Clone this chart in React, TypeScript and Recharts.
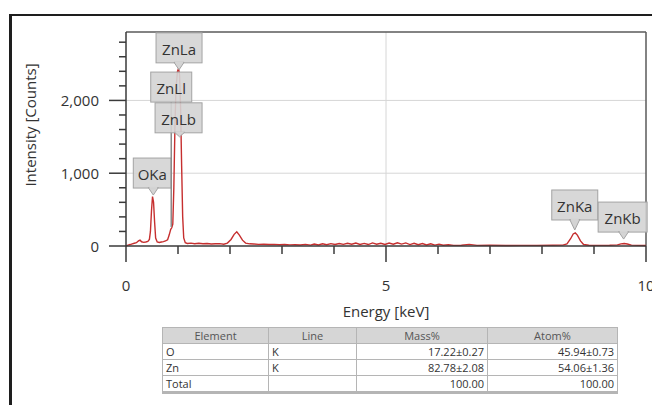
import React from "react";
import { ComposedChart, Line, Scatter, XAxis, YAxis, ReferenceLine } from "recharts";

// EDS spectrum, energy in keV and intensity in counts
const ENERGY_KEV = [
  0.0, 0.04, 0.08, 0.12, 0.16, 0.2, 0.24, 0.27, 0.3, 0.34, 0.38, 0.42, 0.45, 0.47, 0.49, 0.51,
  0.53, 0.55, 0.57, 0.6, 0.64, 0.68, 0.72, 0.76, 0.8, 0.83, 0.86, 0.88, 0.9, 0.92, 0.94, 0.96,
  0.99, 1.01, 1.03, 1.05, 1.07, 1.09, 1.11, 1.14, 1.18, 1.25, 1.32, 1.4, 1.48, 1.56, 1.64, 1.72,
  1.8, 1.88, 1.95, 2.02, 2.08, 2.13, 2.18, 2.24, 2.3, 2.38, 2.46, 2.55, 2.65, 2.75, 2.85, 2.95,
  3.05, 3.15, 3.25, 3.35, 3.45, 3.55, 3.62, 3.7, 3.78, 3.86, 3.94, 4.02, 4.1, 4.18, 4.26, 4.34,
  4.42, 4.5, 4.58, 4.66, 4.74, 4.82, 4.9, 4.98, 5.06, 5.14, 5.22, 5.3, 5.38, 5.46, 5.54, 5.62,
  5.7, 5.78, 5.86, 5.94, 6.02, 6.1, 6.2, 6.3, 6.45, 6.6, 6.75, 7.0, 7.3, 7.6, 7.9, 8.2, 8.4,
  8.48, 8.55, 8.6, 8.64, 8.68, 8.74, 8.8, 8.9, 9.1, 9.3, 9.45, 9.52, 9.58, 9.64, 9.72, 9.85, 10.0,
];
const COUNTS = [
  0, 12, 20, 30, 38, 45, 70, 80, 58, 50, 55, 62, 90, 200, 480, 680,
  600, 330, 110, 55, 48, 55, 60, 70, 85, 150, 230, 250, 300, 800, 1600, 2150,
  2400, 2440, 2350, 1900, 1100, 400, 110, 45, 35, 40, 32, 38, 30, 35, 28, 30,
  32, 25, 40, 90, 160, 195, 150, 80, 40, 30, 28, 22, 25, 20, 22, 18,
  20, 15, 18, 14, 22, 12, 28, 15, 30, 18, 32, 20, 35, 22, 38, 25,
  40, 22, 36, 20, 42, 25, 38, 22, 40, 24, 45, 26, 42, 20, 38, 18,
  34, 15, 30, 12, 25, 10, 18, 8, 10, 22, 8, 10, 7, 9, 8, 10, 12,
  30, 100, 165, 180, 150, 70, 20, 10, 8, 10, 15, 30, 35, 28, 12, 8, 6,
];

const X_TICKS = [0, 1, 2, 3, 4, 5, 6, 7, 8, 9, 10];
const X_TICK_LABELS = [0, 5, 10];
const Y_TICKS = [0, 200, 400, 600, 800, 1000, 1200, 1400, 1600, 1800, 2000, 2200, 2400, 2600, 2800];
const Y_TICK_LABELS = [0, 1000, 2000];
const Y_MAX = 2940;
const X_MAX = 10;

// Peak identification tags (drawn in this order)
const PEAK_NAMES = ["OKa", "ZnKa", "ZnKb", "ZnLl", "ZnLb", "ZnLa"];
const PEAK_ENERGY = [0.525, 8.63, 9.57, 0.87, 1.03, 1.02];
const PEAK_COUNTS = [700, 220, 95, 260, 1500, 2420];

// Quantification table
const TABLE_HEAD = ["Element", "Line", "Mass%", "Atom%"];
const ELEMENTS = ["O", "Zn", "Total"];
const LINES = ["K", "K", ""];
const MASS_PCT = ["17.22±0.27", "82.78±2.08", "100.00"];
const ATOM_PCT = ["45.94±0.73", "54.06±1.36", "100.00"];

const spectrum = ENERGY_KEV.map((e, i) => ({ e, c: COUNTS[i] }));
const peaks = PEAK_NAMES.map((name, i) => ({ name, e: PEAK_ENERGY[i], c: PEAK_COUNTS[i] }));

const FONT = "'Open Sans', 'Noto Sans', sans-serif";
const AXIS = "#3a3a3a";
const TEXT = "#333";

const TAG_STYLE: Record<string, { w: number; dx: number; gap: number; stem?: boolean }> = {
  OKa: { w: 38, dx: -1, gap: 7 },
  ZnLa: { w: 46, dx: 0, gap: 7 },
  ZnLl: { w: 41, dx: 0, gap: 125, stem: true },
  ZnLb: { w: 47, dx: -1, gap: 4 },
  ZnKa: { w: 46, dx: 0, gap: 10 },
  ZnKb: { w: 49, dx: -1, gap: 7 },
};
const TAG_H = 30;

const PeakTag = (props: any) => {
  const { cx, cy, payload } = props;
  const s = TAG_STYLE[payload.name];
  const bx = cx + s.dx - s.w / 2;
  const by = cy - s.gap - TAG_H;
  const bottom = by + TAG_H;
  return (
    <g>
      {s.stem ? (
        <line x1={cx} x2={cx} y1={bottom} y2={cy} stroke="#8a8a8a" strokeWidth={1.5} />
      ) : null}
      <rect x={bx} y={by} width={s.w} height={TAG_H} fill="#d4d4d4" fillOpacity={0.9} stroke="#a3a3a3" strokeWidth={1} />
      {!s.stem ? (
        <polygon
          points={`${cx - 5},${bottom - 0.5} ${cx},${cy} ${cx + 5},${bottom - 0.5}`}
          fill="#d4d4d4"
          stroke="#a3a3a3"
          strokeWidth={1}
        />
      ) : null}
      {!s.stem ? <line x1={cx - 4} x2={cx + 4} y1={bottom - 0.5} y2={bottom - 0.5} stroke="#d4d4d4" strokeWidth={1.5} /> : null}
      <text
        x={bx + s.w / 2}
        y={by + TAG_H / 2 + 1}
        textAnchor="middle"
        dominantBaseline="central"
        fontFamily={FONT}
        fontSize={15}
        fill={TEXT}
      >
        {payload.name}
      </text>
    </g>
  );
};

const YTick = (props: any) => {
  const { x, y, payload } = props;
  const major = Y_TICK_LABELS.includes(payload.value);
  return (
    <g>
      <line x1={x - (major ? 17 : 7)} x2={x} y1={y} y2={y} stroke={AXIS} strokeWidth={1.5} />
      {major ? (
        <text x={x - 27} y={y} textAnchor="end" dominantBaseline="central" fontFamily={FONT} fontSize={15} fill={TEXT}>
          {payload.value.toLocaleString("en-US")}
        </text>
      ) : null}
    </g>
  );
};

const XTick = (props: any) => {
  const { x, y, payload } = props;
  const major = X_TICK_LABELS.includes(payload.value);
  return (
    <g>
      <line x1={x} x2={x} y1={y} y2={y + (major ? 16 : 8)} stroke={AXIS} strokeWidth={1.5} />
      {major ? (
        <text x={x} y={y + 39} textAnchor="middle" dominantBaseline="central" fontFamily={FONT} fontSize={15} fill={TEXT}>
          {payload.value}
        </text>
      ) : null}
    </g>
  );
};

const XTitle = (props: any) => {
  const vb = props.viewBox;
  return (
    <text x={vb.x + vb.width / 2} y={vb.y + 65} textAnchor="middle" dominantBaseline="central" fontFamily={FONT} fontSize={15} fill={TEXT}>
      Energy [keV]
    </text>
  );
};

const YTitle = () => (
  <text x={30} y={125} transform="rotate(-90 30 125)" textAnchor="middle" dominantBaseline="central" fontFamily={FONT} fontSize={15} fill={TEXT}>
    Intensity [Counts]
  </text>
);

const cellBase: React.CSSProperties = {
  border: "1px solid #b5b5b5",
  padding: "0 3px",
  height: 15,
  lineHeight: "15px",
  whiteSpace: "nowrap",
};

export default function App() {
  const colWidths = [106, 88, 131, 130];
  return (
    <div style={{ position: "absolute", left: 0, top: 0, width: 652, height: 405, overflow: "hidden", background: "#fff" }}>
      <div
        style={{
          position: "absolute",
          left: 9,
          top: 14,
          width: 700,
          height: 500,
          borderTop: "2px solid #1e1e1e",
          borderLeft: "3px solid #1e1e1e",
        }}
      />
      <div style={{ position: "absolute", left: 0, top: 0 }}>
        <ComposedChart width={652} height={405} data={spectrum} margin={{ top: 32, right: 6, bottom: 79, left: 0 }}>
          <XAxis
            type="number"
            dataKey="e"
            domain={[0, X_MAX]}
            ticks={X_TICKS}
            interval={0}
            tickSize={0}
            tickMargin={0}
            tickLine={false}
            tick={<XTick />}
            axisLine={{ stroke: AXIS, strokeWidth: 1.5 }}
            height={80}
            label={<XTitle />}
          />
          <YAxis
            type="number"
            domain={[0, Y_MAX]}
            ticks={Y_TICKS}
            interval={0}
            tickSize={0}
            tickMargin={0}
            tickLine={false}
            tick={<YTick />}
            axisLine={{ stroke: AXIS, strokeWidth: 1.5 }}
            width={126}
            label={<YTitle />}
          />
          <ReferenceLine y={1000} stroke="#d6d6d6" strokeWidth={1} />
          <ReferenceLine y={2000} stroke="#d6d6d6" strokeWidth={1} />
          <ReferenceLine x={5} stroke="#d6d6d6" strokeWidth={1} />
          <ReferenceLine y={Y_MAX} stroke="#5a5a5a" strokeWidth={1.5} />
          <ReferenceLine x={X_MAX} stroke="#5a5a5a" strokeWidth={1.5} />
          <Line
            type="linear"
            dataKey="c"
            stroke="#c62f2f"
            strokeWidth={1.4}
            dot={false}
            activeDot={false}
            isAnimationActive={false}
          />
          <Scatter data={peaks} dataKey="c" shape={<PeakTag />} isAnimationActive={false} />
        </ComposedChart>
      </div>
      <table
        style={{
          position: "absolute",
          left: 162,
          top: 327,
          width: 455,
          borderCollapse: "collapse",
          tableLayout: "fixed",
          fontFamily: FONT,
          fontSize: 11,
          color: TEXT,
          background: "#fff",
          borderBottom: "3px solid #b5b5b5",
        }}
      >
        <colgroup>
          {colWidths.map((w, i) => (
            <col key={i} style={{ width: w }} />
          ))}
        </colgroup>
        <thead>
          <tr>
            {TABLE_HEAD.map((h) => (
              <th key={h} style={{ ...cellBase, background: "#d6d6d6", fontWeight: 400, textAlign: "center", color: "#555" }}>
                {h}
              </th>
            ))}
          </tr>
        </thead>
        <tbody>
          {ELEMENTS.map((el, i) => (
            <tr key={el}>
              <td style={{ ...cellBase, textAlign: "left" }}>{el}</td>
              <td style={{ ...cellBase, textAlign: "left" }}>{LINES[i]}</td>
              <td style={{ ...cellBase, textAlign: "right" }}>{MASS_PCT[i]}</td>
              <td style={{ ...cellBase, textAlign: "right" }}>{ATOM_PCT[i]}</td>
            </tr>
          ))}
        </tbody>
      </table>
    </div>
  );
}
